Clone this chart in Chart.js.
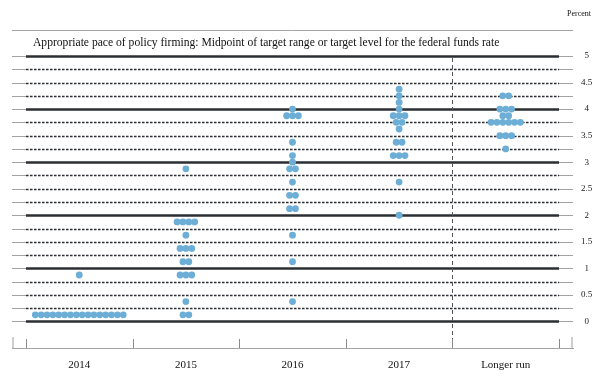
<!DOCTYPE html>
<html>
<head>
<meta charset="utf-8">
<script src="https://cdn.jsdelivr.net/npm/chart.js@4/dist/chart.umd.min.js"></script>
<style>
  html, body { margin: 0; padding: 0; background: #fff; }
</style>
</head>
<body>
<canvas id="canvas" width="609" height="388"></canvas>
<script>
'use strict';

// columns of the dot plot
const categories = ['2014', '2015', '2016', '2017', 'Longer run'];

// rate levels (percent) and number of participants at each level
const levels2014 = [0.125, 0.875];
const counts2014 = [16, 1];

const levels2015 = [0.125, 0.375, 0.875, 1.125, 1.375, 1.625, 1.875, 2.875];
const counts2015 = [2, 1, 3, 2, 3, 1, 4, 1];

const levels2016 = [0.375, 1.125, 1.625, 2.125, 2.375, 2.625, 2.875, 3.0, 3.125, 3.375, 3.875, 4.0];
const counts2016 = [1, 1, 1, 2, 2, 1, 2, 1, 1, 1, 3, 1];

const levels2017 = [2.0, 2.625, 3.125, 3.375, 3.625, 3.75, 3.875, 4.0, 4.125, 4.25, 4.375];
const counts2017 = [1, 1, 3, 2, 1, 2, 3, 1, 1, 1, 1];

const levelsLonger = [3.25, 3.5, 3.75, 3.875, 4.0, 4.25];
const countsLonger = [1, 3, 6, 2, 3, 2];

const yTickLabels = ['0', '0.5', '1', '1.5', '2', '2.5', '3', '3.5', '4', '4.5', '5'];

const titleText = 'Appropriate pace of policy firming: Midpoint of target range or target level for the federal funds rate';
const unitText = 'Percent';

const dotColor = '#6caed6';
const lineColor = '#2b2e33';
const greyColor = '#a3a3a3';
const dotStep = 0.055; // horizontal gap between dots sharing a level

function columnPoints(col, levels, counts) {
    var points = [];
    levels.forEach(function (v, k) {
        var n = counts[k];
        for (var i = 0; i < n; i++) {
            points.push({x: col + 0.5 + (i - (n - 1) / 2) * dotStep, y: v});
        }
    });
    return points;
}

const columns = [
    [levels2014, counts2014],
    [levels2015, counts2015],
    [levels2016, counts2016],
    [levels2017, counts2017],
    [levelsLonger, countsLonger]
];

const datasets = columns.map(function (c, i) {
    return {
        label: categories[i],
        data: columnPoints(i, c[0], c[1]),
        backgroundColor: dotColor,
        borderWidth: 0,
        pointRadius: 3.4,
        pointHoverRadius: 3.4
    };
});

function seg(ctx, x1, y1, x2, y2) {
    ctx.beginPath();
    ctx.moveTo(x1, y1);
    ctx.lineTo(x2, y2);
    ctx.stroke();
}

// rules, grid and header text
const frame = {
    id: 'frame',
    beforeDraw: function (chart) {
        var ctx = chart.ctx, a = chart.chartArea;
        ctx.save();
        ctx.fillStyle = '#fff';
        ctx.fillRect(0, 0, chart.width, chart.height);
        ctx.strokeStyle = greyColor;
        ctx.lineWidth = 1;
        seg(ctx, a.left, 30.5, a.right, 30.5);
        ctx.fillStyle = '#111';
        ctx.textBaseline = 'middle';
        ctx.font = '11.6px "Liberation Serif"';
        ctx.fillText(titleText, 33, 43);
        ctx.font = '8px "Liberation Serif"';
        ctx.textAlign = 'right';
        ctx.fillText(unitText, 591, 14);
        ctx.restore();
    },
    beforeDatasetsDraw: function (chart) {
        var ctx = chart.ctx, a = chart.chartArea,
            x = chart.scales.x, y = chart.scales.y,
            x0 = x.getPixelForValue(0),
            x1 = x.getPixelForValue(categories.length);
        ctx.save();
        y.ticks.forEach(function (t) {
            if (t.value < 0) return;
            var py = Math.round(y.getPixelForValue(t.value)) + 0.5;
            ctx.setLineDash([]);
            ctx.strokeStyle = greyColor;
            ctx.lineWidth = 1;
            seg(ctx, a.left, py, x0, py);
            seg(ctx, x1, py, a.right, py);
            ctx.strokeStyle = lineColor;
            if (Number.isInteger(t.value)) {
                ctx.lineWidth = 2.5;
            } else {
                ctx.lineWidth = 1.6;
                ctx.setLineDash([2.6, 1.4]);
            }
            seg(ctx, x0, py, x1, py);
        });
        // divider before the longer run column
        var xd = Math.round(x.getPixelForValue(categories.length - 1)) + 0.5;
        ctx.setLineDash([4, 3]);
        ctx.strokeStyle = '#555';
        ctx.lineWidth = 1;
        seg(ctx, xd, y.getPixelForValue(5) + 2, xd, a.bottom);
        // tick marks on the category axis
        ctx.setLineDash([]);
        ctx.strokeStyle = '#8a8a8a';
        for (var i = 0; i <= categories.length; i++) {
            var px = Math.round(x.getPixelForValue(i)) + 0.5;
            seg(ctx, px, a.bottom, px, a.bottom - 9);
        }
        ctx.strokeStyle = '#cfcfcf';
        ctx.lineWidth = 2;
        seg(ctx, a.left + 1, a.bottom, a.left + 1, a.bottom - 11);
        seg(ctx, a.right - 1, a.bottom, a.right - 1, a.bottom - 11);
        ctx.restore();
    }
};

const chart = new Chart(document.getElementById('canvas').getContext('2d'), {
    type: 'scatter',
    data: {datasets: datasets},
    options: {
        responsive: false,
        animation: false,
        layout: {padding: {top: 56, left: 12, right: 12, bottom: 0}},
        plugins: {
            legend: {display: false},
            tooltip: {enabled: false}
        },
        scales: {
            x: {
                type: 'linear',
                min: -0.131,
                max: 5.131,
                afterBuildTicks: function (scale) {
                    scale.ticks = categories.map(function (c, i) { return {value: i + 0.5}; });
                },
                afterFit: function (scale) { scale.height = 40; },
                grid: {display: false},
                border: {display: true, color: greyColor, width: 1},
                ticks: {
                    autoSkip: false,
                    maxRotation: 0,
                    padding: 3,
                    color: '#111',
                    font: {family: '"Liberation Serif"', size: 11},
                    callback: function (value) { return categories[Math.floor(value)]; }
                }
            },
            y: {
                position: 'right',
                min: -0.5,
                max: 5,
                afterFit: function (scale) { scale.width = 24; },
                grid: {display: false},
                border: {display: false},
                ticks: {
                    stepSize: 0.25,
                    autoSkip: false,
                    padding: 0,
                    crossAlign: 'center',
                    color: '#222',
                    font: {family: '"Liberation Serif"', size: 9},
                    callback: function (value) {
                        var k = value * 2;
                        return (value >= 0 && Number.isInteger(k)) ? yTickLabels[k] : '';
                    }
                }
            }
        }
    },
    plugins: [frame]
});
</script>
</body>
</html>
